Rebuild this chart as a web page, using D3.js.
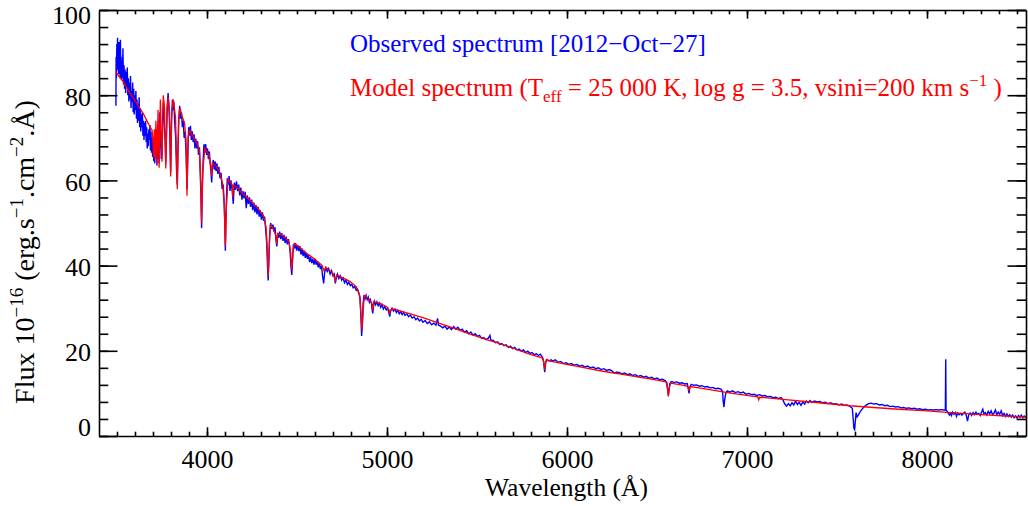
<!DOCTYPE html>
<html lang="en">
<head>
<meta charset="utf-8">
<title>Observed vs model spectrum</title>
<script src="https://d3js.org/d3.v7.min.js"></script>
<style type="text/css">
  body { margin: 0; background: #fff; }
  text { font-family: "Liberation Serif", "Times New Roman", serif; }
  .tick text { font-size: 26px; fill: #000; }
  .domain, .tick line { stroke: #000; stroke-width: 1.6px; }
  .title { font-size: 25.5px; fill: #000; }
  .ytitle { font-size: 28px; fill: #000; }
  .legend { font-size: 25px; }
</style>
</head>
<body>
<div id="vis"></div>
<script type="text/javascript">

// wavelength (Angstrom), flux (1e-16 erg/s/cm2/A)
const observed = [
  [3494,77.5],[3495,89],[3497,84],[3499,92],[3501,86],[3503,93.5],[3505,87],[3507,91],[3509,85],[3511,92.5],
  [3513,86],[3515,90],[3517,84],[3519,93],[3521,85],[3523,89],[3525,83.5],[3527,88],[3530,84],[3533,91],
  [3536,82.5],[3539,87],[3542,81.5],[3545,86],[3548,80.5],[3551,85.5],[3554,82],[3557,86.5],[3560,80],[3563,84],
  [3566,78.5],[3569,83],[3572,79],[3575,84.5],[3578,77],[3581,81],[3584,78.5],[3587,83],[3590,76],[3593,81.5],
  [3596,75.5],[3599,80],[3602,76.5],[3605,81],[3608,74.5],[3611,79],[3614,73.5],[3617,78],[3620,74],[3623,79.5],
  [3626,72.5],[3629,77],[3632,71.5],[3635,75.5],[3638,72.5],[3641,76],[3644,70.5],[3647,74],[3650,69.5],[3653,73.5],
  [3656,70.5],[3659,74],[3662,69],[3665,72.5],[3668,67.5],[3671,71],[3674,68],[3677,72],[3680,69.5],[3683,73],
  [3686,67],[3689,71.5],[3692,66.5],[3695,70],[3698,65.5],[3701,70],[3704,64.5],[3707,69.5],[3710,64],[3713,70],
  [3716,66],[3719,72],[3722,63.5],[3725,73],[3728,65],[3731,74],[3734,64],[3738,76],[3742,70],[3746,65],
  [3750,66],[3754,75],[3758,78.5],[3762,74],[3767,70],[3771,64],[3775,71],[3780,78],[3784,80.5],[3788,77.5],
  [3792,73],[3798,62],[3803,74],[3808,79],[3812,76.5],[3816,78.5],[3820,74],[3826,70],[3831,62],[3835,59],
  [3839,68],[3844,75],[3848,77.5],[3853,74.5],[3858,76],[3863,72.5],[3868,74],[3873,70],[3878,71.5],[3884,66],
  [3889,58],[3894,67],[3898,72.5],[3903,70.5],[3908,72.8],[3913,69.5],[3918,71.5],[3923,69],[3928,70.8],[3933,67.5],
  [3938,69.8],[3943,67.5],[3948,69.2],[3953,66],[3958,67.8],[3962,62],[3966,57],[3970,48.8],[3974,58],[3978,64],
  [3983,68.5],[3988,66.5],[3993,68.5],[3998,66],[4003,67.5],[4008,65],[4013,66.8],[4018,64],[4022,62],[4026,59.5],
  [4030,63.5],[4035,64.8],[4040,62.5],[4045,64.5],[4050,62.2],[4055,64],[4060,61.5],[4066,63.2],[4072,60.5],[4078,61.8],
  [4084,58],[4090,59],[4095,55],[4099,50],[4102,43.5],[4105,51],[4109,57],[4113,60.5],[4118,59],[4123,61],
  [4128,57.5],[4133,60],[4140,57.5],[4146,54.5],[4152,59.5],[4158,57.8],[4164,59.8],[4170,57.5],[4176,59],[4182,56.5],
  [4188,58.3],[4194,55.5],[4200,57.5],[4206,55.8],[4212,57.3],[4218,53.5],[4224,56.5],[4230,54.5],[4236,56],[4242,53.8],
  [4248,55.5],[4254,53],[4260,54.8],[4266,52.5],[4272,54.2],[4278,52],[4284,53.8],[4290,51.5],[4296,53],[4302,50.8],
  [4308,52.5],[4314,50.5],[4320,51.5],[4326,48.5],[4332,45],[4337,39],[4340,36.5],[4343,40],[4348,47],[4354,50],
  [4360,48.6],[4366,49.6],[4372,48],[4378,49],[4383,46],[4388,44.5],[4393,47.5],[4398,46.5],[4404,48],[4410,46.2],
  [4416,47.6],[4422,45.8],[4428,47.2],[4434,45.3],[4440,46.8],[4446,45],[4452,46.2],[4458,44.8],[4463,42.5],[4467,39.5],
  [4471,37.8],[4475,41],[4480,45],[4486,44],[4492,45.3],[4498,43.5],[4504,44.8],[4510,43.4],[4516,44.6],[4522,42.6],
  [4528,44],[4534,42.2],[4540,43.5],[4546,41.8],[4552,43],[4558,41.6],[4564,42.5],[4570,40.8],[4576,42],[4582,40.6],
  [4588,41.6],[4594,40.2],[4600,41.6],[4606,40.2],[4612,41],[4618,39.6],[4624,40.6],[4630,39.2],[4636,40],[4642,37.5],
  [4648,35.8],[4654,38.5],[4660,39.5],[4668,38.6],[4676,39.3],[4684,38],[4692,38.8],[4700,37.6],[4707,38],[4713,35.8],
  [4718,37],[4725,38],[4732,37],[4740,37.6],[4748,36.6],[4756,37.1],[4764,36],[4772,36.6],[4780,35.6],[4788,36.1],
  [4796,35.3],[4804,35.6],[4812,34.8],[4820,35.1],[4828,34.3],[4836,34.5],[4844,33.5],[4850,32.5],[4855,28],[4859,23.5],
  [4863,26],[4867,31],[4872,33],[4878,32.2],[4884,33],[4890,32],[4896,32.6],[4902,31.4],[4908,32],[4914,31],
  [4918,29.5],[4921,28.8],[4925,30.5],[4930,31.6],[4937,30.8],[4944,31.5],[4951,30.6],[4958,31.2],[4965,30.2],[4972,30.8],
  [4980,29.8],[4988,30.4],[4996,29.6],[5004,30],[5010,29],[5015,28],[5020,29.3],[5028,30],[5036,29.3],[5044,29.8],
  [5052,29],[5060,29.5],[5068,28.7],[5076,29.2],[5084,28.5],[5092,29],[5100,28.3],[5110,28.7],[5120,28],[5130,28.4],
  [5140,27.7],[5150,28],[5160,27.3],[5170,27.7],[5180,27],[5190,27.4],[5200,26.7],[5212,27.1],[5224,26.4],[5236,26.8],
  [5248,26.1],[5260,26.5],[5272,26],[5281,27.6],[5286,26],[5298,25.8],[5310,25.4],[5322,25.8],[5334,25.1],[5346,25.6],
  [5358,25],[5370,25.7],[5382,25.1],[5394,25.5],[5406,24.8],[5418,25.1],[5430,24.4],[5442,24.7],[5454,24],[5466,24.4],
  [5478,23.7],[5490,24],[5502,23.4],[5514,23.6],[5526,22.9],[5538,23.1],[5550,22.6],[5562,22.9],[5572,23.6],[5578,22.4],
  [5590,22.5],[5602,21.9],[5614,22.1],[5626,21.5],[5638,21.7],[5650,21.2],[5662,21.4],[5674,20.8],[5686,21.1],[5698,20.5],
  [5710,20.8],[5722,20.2],[5734,20.4],[5746,19.9],[5758,20.2],[5770,19.6],[5782,19.9],[5794,19.4],[5806,19.6],[5818,19.1],
  [5830,19.3],[5842,18.9],[5852,19.2],[5862,18.6],[5870,17.5],[5876,15],[5882,17.4],[5890,17.9],[5900,17.6],[5912,17.9],
  [5920,17.6],[5935,17.9],[5950,17.3],[5965,17.5],[5980,17.0],[5995,17.2],[6010,16.8],[6025,17.0],[6040,16.6],[6055,16.8],
  [6070,16.4],[6085,16.6],[6100,16.2],[6115,16.4],[6130,16.0],[6145,16.2],[6160,15.8],[6175,16.0],[6190,15.6],[6205,15.8],
  [6220,15.4],[6235,15.6],[6250,15.3],[6262,14.8],[6275,15.0],[6290,14.9],[6305,14.6],[6320,14.8],[6335,14.4],[6350,14.6],
  [6365,14.2],[6380,14.4],[6395,14.0],[6410,14.2],[6425,13.8],[6440,14.0],[6455,13.6],[6470,13.8],[6485,13.4],[6500,13.6],
  [6515,13.2],[6530,13.3],[6545,13.0],[6555,12.5],[6560,10.5],[6563,9.5],[6567,11],[6572,12.4],[6580,12.8],[6595,12.6],
  [6610,12.7],[6625,12.4],[6640,12.5],[6655,12.2],[6668,12.3],[6674,11],[6678,10],[6682,11.4],[6690,12.1],[6705,11.9],
  [6720,12.0],[6735,11.7],[6750,11.8],[6765,11.5],[6780,11.6],[6795,11.3],[6810,11.4],[6825,11.1],[6840,11.2],[6855,11.0],
  [6864,10.5],[6868,8],[6872,6.8],[6876,8.5],[6882,10],[6890,10.6],[6905,10.3],[6920,10.6],[6935,10.2],[6950,10.4],
  [6965,10.1],[6980,10.3],[6995,9.8],[7010,10.0],[7025,9.7],[7040,9.8],[7055,9.5],[7070,9.7],[7085,9.4],[7100,9.5],
  [7115,9.2],[7130,9.3],[7145,9.0],[7160,9.1],[7175,8.8],[7190,9.0],[7200,8.4],[7210,7.5],[7220,7.0],[7230,7.6],
  [7240,7.1],[7250,7.8],[7260,7.3],[7270,8.2],[7280,7.4],[7290,7.9],[7300,7.2],[7310,8.0],[7320,7.5],[7330,8.2],
  [7340,7.8],[7350,8.3],[7360,7.9],[7375,8.2],[7390,8.0],[7405,8.1],[7420,7.8],[7435,7.9],[7450,7.6],[7465,7.8],
  [7480,7.5],[7495,7.6],[7510,7.3],[7525,7.5],[7540,7.2],[7555,7.3],[7570,7.0],[7585,6.5],[7590,4],[7594,1.8],
  [7598,1.5],[7602,3.5],[7606,5.5],[7612,4.5],[7620,5],[7630,5.8],[7645,6.6],[7660,7.2],[7675,7.6],[7690,7.7],
  [7705,7.5],[7720,7.6],[7735,7.3],[7750,7.4],[7765,7.1],[7780,7.2],[7795,6.9],[7810,7.0],[7825,6.8],[7840,6.9],
  [7855,6.6],[7870,6.7],[7885,6.5],[7900,6.6],[7915,6.4],[7930,6.5],[7945,6.3],[7960,6.4],[7975,6.2],[7990,6.3],
  [8005,6.1],[8020,6.2],[8035,6.1],[8050,6.2],[8065,6.1],[8080,6.2],[8095,6.1],[8102,6.1],[8104,18],[8106,6.0],
  [8112,5.8],[8120,5.2],[8125,4.9],[8130,5.4],[8136,4.8],[8142,5.6],[8150,5.1],[8158,5.5],[8164,4.6],[8170,5.4],
  [8178,5.0],[8186,5.3],[8194,4.9],[8200,5.2],[8210,5.6],[8218,4.9],[8225,3.5],[8232,5.0],[8240,5.4],[8248,4.8],
  [8256,5.5],[8264,5.0],[8272,5.6],[8280,5.1],[8288,5.3],[8296,4.8],[8304,5.7],[8310,6.3],[8316,5.2],[8324,5.5],
  [8332,4.9],[8340,5.8],[8348,5.2],[8356,5.9],[8364,5.0],[8372,5.4],[8380,6.1],[8388,5.0],[8396,5.6],[8404,5.1],
  [8412,5.9],[8420,4.8],[8428,5.3],[8436,4.6],[8444,5.2],[8452,4.6],[8460,5.0],[8468,4.4],[8476,4.9],[8484,4.3],
  [8492,4.7],[8500,4.2],[8508,4.8],[8516,4.4],[8524,4.9],[8532,4.3],[8540,4.7],[8548,4.4],[8556,4.6]
];

const model = [
  [3494,85.5],[3510,84.5],[3535,83.2],[3560,81.3],[3591,79.3],[3620,77.4],[3646,75.7],[3665,74.1],[3683,72.6],[3695,71.8],
  [3700,69],[3704,65.5],[3707,72],[3712,65],[3716,74],[3722,64],[3728,76.5],[3734,63],[3741,79],[3750,64.4],
  [3757,80],[3764,77],[3771,62.8],[3778,77],[3785,79.5],[3792,76],[3798,60.9],[3804,76],[3812,79],[3825,75],
  [3835,57.9],[3842,74],[3850,77],[3862,75],[3875,73.5],[3883,70],[3889,56.4],[3895,70],[3902,71.8],[3920,70.5],
  [3945,68.6],[3958,67],[3964,62],[3970,50],[3976,62],[3988,67.5],[4010,66],[4022,63],[4026,61],[4030,64],
  [4050,63.4],[4070,62],[4088,59],[4096,54],[4102,44.5],[4108,54],[4117,60.3],[4140,59],[4144,56],[4148,58.8],
  [4167,58.4],[4195,57],[4222,56],[4250,54.8],[4278,53.7],[4314,51.7],[4328,49],[4335,44],[4340,37.5],[4345,44],
  [4352,49.5],[4365,49],[4383,47],[4388,45],[4393,47.6],[4420,47],[4455,45.7],[4465,43],[4471,39],[4477,43],
  [4485,45.2],[4517,44.2],[4550,43],[4600,41.5],[4640,40],[4650,38.8],[4660,39.6],[4700,38.2],[4713,36.5],[4720,37.8],
  [4760,37],[4794,36.3],[4830,35],[4848,33],[4855,29],[4861,24.8],[4867,29],[4874,33],[4900,32.2],[4917,31],
  [4921,29.5],[4926,31.5],[4960,31.2],[5000,30.3],[5011,29.5],[5015,28.6],[5019,29.6],[5040,29.8],[5072,29.4],[5120,28.8],
  [5200,27.8],[5280,26.6],[5350,25.6],[5450,24.1],[5550,22.7],[5628,21.7],[5700,20.6],[5800,19.1],[5866,18.3],[5872,17],
  [5876,15.5],[5880,17],[5886,18],[5906,17.6],[6000,16.8],[6100,16],[6200,15.2],[6300,14.5],[6400,13.8],[6500,13.1],
  [6550,12.7],[6557,11.5],[6563,9.3],[6569,11.5],[6576,12.4],[6650,11.9],[6672,11.6],[6678,10.6],[6684,11.6],[6750,11.2],
  [6900,10.1],[7017,9.4],[7060,9.2],[7065,8.5],[7070,9.1],[7200,8.6],[7400,7.8],[7572,7.1],[7800,6.4],[8000,5.9],
  [8128,5.5],[8300,5.0],[8440,4.7],[8561,4.4]
];

const xTicks = [4000, 5000, 6000, 7000, 8000];
const xMinor = d3.range(3500, 8600, 100);
const yTicks = [0, 20, 40, 60, 80, 100];
const yMinor = d3.range(0, 101, 4);

const width = 1028;
const height = 506;
const plotLeft = 99, plotRight = 1026, plotTop = 10, plotBottom = 436;

const xScale = d3.scaleLinear().domain([3400, 8550]).range([plotLeft, plotRight]);
const yScale = d3.scaleLinear().domain([0, 100]).range([plotBottom, plotTop]);

const svg = d3.select("#vis")
              .append("svg")
              .attr("width", width)
              .attr("height", height)
              .style("background-color", "#fff");

svg.append("clipPath").attr("id", "plotclip")
   .append("rect")
   .attr("x", plotLeft).attr("y", plotTop)
   .attr("width", plotRight - plotLeft).attr("height", plotBottom - plotTop);

const line = d3.line()
               .x(d => xScale(d[0]))
               .y(d => yScale(d[1]));

// spectra
svg.append("path")
   .datum(observed)
   .attr("clip-path", "url(#plotclip)")
   .attr("fill", "none")
   .attr("stroke", "#0000ff")
   .attr("stroke-width", 1.4)
   .attr("d", line);

svg.append("path")
   .datum(model)
   .attr("clip-path", "url(#plotclip)")
   .attr("fill", "none")
   .attr("stroke", "#ff0000")
   .attr("stroke-width", 1.3)
   .attr("d", line);

// axes: ticks point into the box, as in IDL plots
svg.append("g")
   .attr("transform", "translate(0," + plotBottom + ")")
   .call(d3.axisBottom(xScale).tickValues(xMinor).tickSize(-4.3).tickFormat(""))
   .call(g => g.select(".domain").remove());
svg.append("g")
   .attr("transform", "translate(0," + plotBottom + ")")
   .call(d3.axisBottom(xScale).tickValues(xTicks).tickSizeInner(-8.7).tickSizeOuter(0)
         .tickPadding(14).tickFormat(d3.format("d")));

svg.append("g")
   .attr("transform", "translate(0," + plotTop + ")")
   .call(d3.axisTop(xScale).tickValues(xMinor).tickSize(-4.3).tickFormat(""))
   .call(g => g.select(".domain").remove());
svg.append("g")
   .attr("transform", "translate(0," + plotTop + ")")
   .call(d3.axisTop(xScale).tickValues(xTicks).tickSizeInner(-8.7).tickSizeOuter(0).tickFormat(""));

svg.append("g")
   .attr("transform", "translate(" + plotLeft + ",0)")
   .call(d3.axisLeft(yScale).tickValues(yMinor).tickSize(-9.3).tickFormat(""))
   .call(g => g.select(".domain").remove());
const yAxis = svg.append("g")
   .attr("transform", "translate(" + plotLeft + ",0)")
   .call(d3.axisLeft(yScale).tickValues(yTicks).tickSizeInner(-18.5).tickSizeOuter(0).tickPadding(8));
// IDL nudges the end labels inward
yAxis.selectAll(".tick text")
     .attr("dy", d => d === 0 ? "-0.02em" : d === 100 ? "0.52em" : "0.38em");

svg.append("g")
   .attr("transform", "translate(" + plotRight + ",0)")
   .call(d3.axisRight(yScale).tickValues(yMinor).tickSize(-9.3).tickFormat(""))
   .call(g => g.select(".domain").remove());
svg.append("g")
   .attr("transform", "translate(" + plotRight + ",0)")
   .call(d3.axisRight(yScale).tickValues(yTicks).tickSizeInner(-18.5).tickSizeOuter(0).tickFormat(""));

// axis titles
svg.append("text")
   .attr("class", "title")
   .attr("x", (plotLeft + plotRight) / 2 + 4)
   .attr("y", 496)
   .attr("text-anchor", "middle")
   .text("Wavelength (Å)");

const yTitle = svg.append("text")
   .attr("class", "ytitle")
   .attr("transform", "translate(34,252) rotate(-90)")
   .attr("text-anchor", "middle");
yTitle.append("tspan").text("Flux 10");
yTitle.append("tspan").attr("dy", -11).attr("font-size", "19px").text("−16");
yTitle.append("tspan").attr("dy", 11).text(" (erg.s");
yTitle.append("tspan").attr("dy", -11).attr("font-size", "19px").text("−1");
yTitle.append("tspan").attr("dy", 11).text(".cm");
yTitle.append("tspan").attr("dy", -11).attr("font-size", "19px").text("−2");
yTitle.append("tspan").attr("dy", 11).text(".Å)");

// legend text
svg.append("text")
   .attr("class", "legend")
   .attr("x", 350)
   .attr("y", 52)
   .attr("fill", "#0000ff")
   .text("Observed spectrum [2012−Oct−27]");

const modelLabel = svg.append("text")
   .attr("class", "legend")
   .attr("x", 350)
   .attr("y", 96)
   .attr("fill", "#ff0000");
modelLabel.append("tspan").text("Model spectrum (T");
modelLabel.append("tspan").attr("dy", 6).attr("font-size", "17px").text("eff");
modelLabel.append("tspan").attr("dy", -6).text(" = 25 000 K, log g = 3.5, vsini=200 km s");
modelLabel.append("tspan").attr("dy", -10).attr("font-size", "17px").text("−1");
modelLabel.append("tspan").attr("dy", 10).text(" )");

</script>
</body>
</html>
